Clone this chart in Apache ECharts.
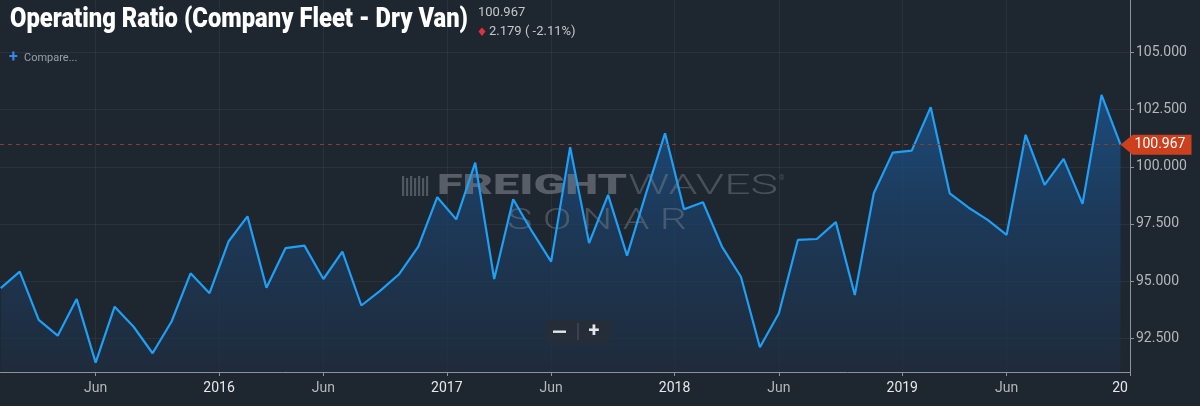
<!DOCTYPE html>
<html>
<head>
<meta charset="utf-8">
<script src="https://cdn.jsdelivr.net/npm/echarts@6/dist/echarts.min.js"></script>
<style>
html,body{margin:0;padding:0;background:#1e2630;}
#c{width:1200px;height:406px;}
</style>
</head>
<body>
<div id="c"></div>
<script>
// ---- data ----
const titleText = 'Operating Ratio (Company Fleet - Dry Van)';
const months = [
 '2015-01','2015-02','2015-03','2015-04','2015-05','2015-06','2015-07','2015-08','2015-09','2015-10','2015-11','2015-12',
 '2016-01','2016-02','2016-03','2016-04','2016-05','2016-06','2016-07','2016-08','2016-09','2016-10','2016-11','2016-12',
 '2017-01','2017-02','2017-03','2017-04','2017-05','2017-06','2017-07','2017-08','2017-09','2017-10','2017-11','2017-12',
 '2018-01','2018-02','2018-03','2018-04','2018-05','2018-06','2018-07','2018-08','2018-09','2018-10','2018-11','2018-12',
 '2019-01','2019-02','2019-03','2019-04','2019-05','2019-06','2019-07','2019-08','2019-09','2019-10','2019-11','2019-12'
];
const values = [
 94.69, 95.41, 93.30, 92.61, 94.21, 91.43, 93.88, 93.00, 91.84, 93.23, 95.34, 94.47,
 96.73, 97.83, 94.71, 96.44, 96.55, 95.09, 96.29, 93.93, 94.58, 95.31, 96.51, 98.67,
 97.70, 100.18, 95.09, 98.58, 97.16, 95.85, 100.86, 96.66, 98.77, 96.11, 98.84, 101.47,
 98.14, 98.45, 96.51, 95.19, 92.10, 93.59, 96.80, 96.84, 97.58, 94.39, 98.84, 100.62,
 100.71, 102.61, 98.84, 98.21, 97.68, 97.02, 101.40, 99.21, 100.35, 98.38, 103.146, 100.967
];
const lastValue = 100.967;
const changeText = '2.179 ( -2.11%)';
// x tick positions in months since 2015-01-01 (mid-June and Jan 1)
const xTickValues = [5.5, 12, 17.5, 24, 29.5, 36, 41.5, 48, 53.5, 60];
const xTickLabels = ['Jun', '2016', 'Jun', '2017', 'Jun', '2018', 'Jun', '2019', 'Jun', '20'];
const yTickValues = [92.5, 95, 97.5, 100, 102.5, 105];

// ---- helpers ----
function textWidth(text, font) {
  const ctx = document.createElement('canvas').getContext('2d');
  ctx.font = font;
  return ctx.measureText(text).width;
}
const TITLE_FONT = '900 28px Roboto';
const titleScale = 458 / textWidth(titleText, TITLE_FONT);
const WM1_FONT = '900 28px Roboto';
const wm1Scale = 190 / textWidth('FREIGHT', WM1_FONT);
const WM2_FONT = '300 28px Roboto';
const wm2Scale = 150 / textWidth('WAVES', WM2_FONT);
const WM3_FONT = '300 30px Roboto';
const wm3Text = 'S O N A R';
const wm3Scale = 180 / textWidth(wm3Text, WM3_FONT);

const seriesData = months.map((m, i) => [i + 0.5, values[i]]);

const labelMap = {};
xTickValues.forEach((v, i) => { labelMap[v] = xTickLabels[i]; });

const logoBars = [];
[0, 4, 8, 12, 16, 20, 24].forEach((dx, i) => {
  logoBars.push({type: 'rect', z: 2, shape: {x: 402 + dx, y: 176 + (i % 2) * 2, width: 2.2, height: 20 - (i % 2) * 2}, style: {fill: 'rgba(120,127,136,0.55)'}});
});

const chart = echarts.init(document.getElementById('c'), null, {renderer: 'canvas'});
chart.setOption({
  backgroundColor: '#1e2630',
  animation: false,
  grid: {left: 0, right: 70, top: 0, bottom: 34, containLabel: false},
  xAxis: {
    type: 'value',
    min: 0.46,
    max: 60,
    axisLine: {show: true, lineStyle: {color: '#8c939b', width: 1}},
    axisTick: {show: true, length: 4, lineStyle: {color: '#8c939b'}, customValues: xTickValues},
    axisLabel: {
      customValues: xTickValues,
      margin: 9,
      fontFamily: 'Roboto',
      fontSize: 14,
      color: '#b3b8bd',
      formatter: function (v) {
        const t = labelMap[v];
        if (t === undefined) return '';
        if (t === '20') return '{end|' + t + '}';
        if (t === 'Jun') return '{mon|' + t + '}';
        return '{yr|' + t + '}';
      },
      rich: {
        mon: {color: '#b3b8bd', fontSize: 14, fontFamily: 'Roboto'},
        yr: {color: '#e6e8ea', fontSize: 14, fontFamily: 'Roboto'},
        end: {color: '#e6e8ea', fontSize: 14, fontFamily: 'Roboto', padding: [0, 20, 0, 0]}
      }
    },
    splitLine: {show: true, lineStyle: {color: 'rgba(255,255,255,0.05)', width: 1}}
  },
  yAxis: {
    type: 'value',
    position: 'right',
    min: 91.02,
    max: 107.3,
    axisLine: {show: true, lineStyle: {color: '#8c939b', width: 1}},
    axisTick: {show: true, length: 4, lineStyle: {color: '#8c939b'}, customValues: yTickValues},
    axisLabel: {
      customValues: yTickValues,
      margin: 6,
      fontFamily: 'Roboto',
      fontSize: 14,
      color: '#b3b8bd',
      formatter: v => v.toFixed(3)
    },
    splitLine: {show: true, lineStyle: {color: 'rgba(255,255,255,0.05)', width: 1}}
  },
  series: [
    {
      type: 'line',
      z: 1,
      data: seriesData,
      symbol: 'none',
      lineStyle: {width: 0, opacity: 0},
      areaStyle: {
        color: new echarts.graphic.LinearGradient(0, 0, 0, 1, [
          {offset: 0, color: '#1b5b9a'},
          {offset: 0.45, color: '#1c416a'},
          {offset: 1, color: '#1f2d3f'}
        ])
      },
      silent: true
    },
    {
      type: 'line',
      z: 3,
      data: seriesData,
      symbol: 'none',
      lineStyle: {width: 2.2, color: '#1f9ff5'},
      silent: true,
      markLine: {
        silent: true,
        symbol: 'none',
        label: {show: false},
        lineStyle: {color: '#8e3b2f', type: [4, 4], width: 1},
        data: [{yAxis: lastValue}]
      },
      markPoint: {
        silent: true,
        symbol: 'path://M0,10 L12,0 L70,0 L70,20 L12,20 Z',
        symbolSize: [71, 20],
        symbolKeepAspect: false,
        symbolOffset: [35.5, 0],
        itemStyle: {color: '#cc401e'},
        label: {
          show: true,
          position: 'inside',
          offset: [4, 0],
          formatter: lastValue.toFixed(3),
          color: '#ffffff',
          fontFamily: 'Roboto',
          fontSize: 14
        },
        data: [{coord: [seriesData[seriesData.length - 1][0], lastValue]}]
      }
    }
  ],
  graphic: [
    {type: 'text', x: 10, y: 20, scaleX: titleScale, z: 10,
     style: {text: titleText, font: TITLE_FONT, fill: '#ffffff', verticalAlign: 'middle'}},
    {type: 'text', x: 478, y: 13, z: 10,
     style: {text: lastValue.toFixed(3), font: '13px Roboto', fill: '#c3c8cd', verticalAlign: 'middle'}},
    {type: 'polygon', z: 10, shape: {points: [[482, 27.5], [485.5, 31.5], [482, 36], [478.5, 31.5]]}, style: {fill: '#e2313c'}},
    {type: 'text', x: 489, y: 31.5, z: 10,
     style: {text: changeText, font: '13px Roboto', fill: '#c3c8cd', verticalAlign: 'middle'}},
    {type: 'text', x: 9, y: 58, z: 10,
     style: {text: '+', font: 'bold 16px Roboto', fill: '#3a86f0', verticalAlign: 'middle'}},
    {type: 'text', x: 24, y: 58.5, z: 10,
     style: {text: 'Compare...', font: '11px Roboto', fill: '#98a0a8', verticalAlign: 'middle'}},
    // watermark
    {type: 'group', z: 2, children: logoBars},
    {type: 'text', x: 437, y: 186.5, scaleX: wm1Scale, z: 2,
     style: {text: 'FREIGHT', font: WM1_FONT, fill: 'rgba(125,132,140,0.6)', verticalAlign: 'middle'}},
    {type: 'text', x: 628, y: 186.5, scaleX: wm2Scale, z: 2,
     style: {text: 'WAVES', font: WM2_FONT, fill: 'rgba(125,132,140,0.45)', verticalAlign: 'middle'}},
    {type: 'text', x: 779, y: 178, z: 2,
     style: {text: '®', font: '7px Roboto', fill: 'rgba(125,132,140,0.45)', verticalAlign: 'middle'}},
    {type: 'text', x: 507, y: 221.5, scaleX: wm3Scale, z: 2,
     style: {text: wm3Text, font: WM3_FONT, fill: 'rgba(125,132,140,0.45)', verticalAlign: 'middle'}},
    // zoom control
    {type: 'rect', z: 10, shape: {x: 545, y: 320, width: 66, height: 23, r: 2}, style: {fill: 'rgba(38,46,56,0.92)'}},
    {type: 'rect', z: 11, shape: {x: 577.5, y: 323, width: 1, height: 17}, style: {fill: 'rgba(90,98,108,0.8)'}},
    {type: 'rect', z: 11, shape: {x: 553, y: 330.5, width: 13, height: 2.4}, style: {fill: '#e4e6e8'}},
    {type: 'text', x: 594, y: 331.5, z: 11,
     style: {text: '+', font: 'bold 20px Roboto', fill: '#e4e6e8', align: 'center', verticalAlign: 'middle'}}
  ]
});
</script>
</body>
</html>
